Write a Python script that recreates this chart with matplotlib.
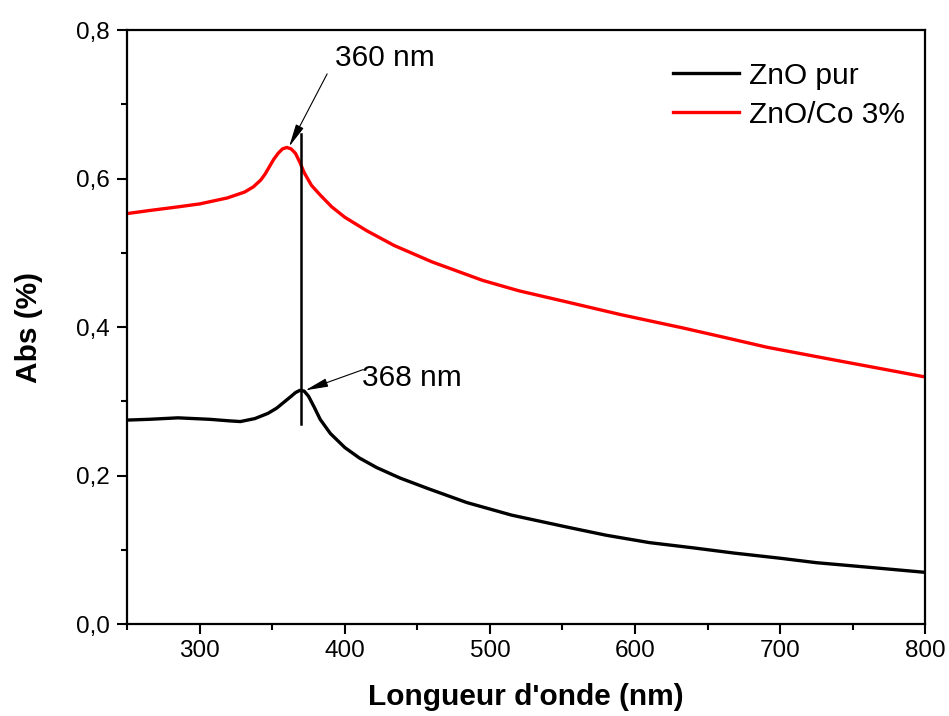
import matplotlib.pyplot as plt
from matplotlib.ticker import MultipleLocator, FuncFormatter

plt.rcParams['font.family'] = ['Liberation Sans', 'DejaVu Sans']

# UV-Vis absorbance spectra
wl_pur = [250, 265, 285, 307, 320, 328, 338, 347, 353, 358, 363, 366, 369, 372,
          375, 379, 383, 390, 400, 410, 422, 438, 457, 484, 515, 553, 580, 610,
          640, 668, 700, 725, 760, 800]
abs_pur = [0.275, 0.276, 0.278, 0.276, 0.274, 0.273, 0.277, 0.284, 0.291, 0.299,
           0.307, 0.312, 0.315, 0.314, 0.307, 0.292, 0.276, 0.257, 0.238, 0.224,
           0.211, 0.197, 0.183, 0.164, 0.147, 0.131, 0.120, 0.110, 0.103, 0.096,
           0.089, 0.083, 0.077, 0.070]

wl_co = [250, 265, 285, 300, 319, 331, 337, 342, 345, 348, 351, 354, 357, 360,
         363, 366, 369, 372, 377, 383, 391, 400, 415, 434, 460, 495, 520, 553,
         590, 633, 660, 691, 737, 770, 800]
abs_co = [0.553, 0.557, 0.562, 0.566, 0.574, 0.582, 0.589, 0.598, 0.606, 0.616,
          0.626, 0.634, 0.640, 0.642, 0.640, 0.634, 0.622, 0.608, 0.591, 0.578,
          0.562, 0.548, 0.530, 0.510, 0.488, 0.463, 0.449, 0.434, 0.417, 0.399,
          0.387, 0.373, 0.356, 0.344, 0.333]

# peak labels: (text, peak position, arrow tail, text anchor)
peaks = [
    ('360 nm', (361.6, 0.643), (387.8, 0.741), (393.0, 0.762)),
    ('368 nm', (372.7, 0.315), (412.7, 0.343), (412.0, 0.331)),
]
marker_x = 370
marker_y = (0.27, 0.66)

fig = plt.figure(figsize=(9.49, 7.16), dpi=100)
ax = fig.add_axes([0.134, 0.128, 0.841, 0.830])

ax.plot(wl_pur, abs_pur, color='black', lw=2.4, label='ZnO pur',
        solid_joinstyle='round')
ax.plot(wl_co, abs_co, color='#ff0000', lw=2.4, label='ZnO/Co 3%',
        solid_joinstyle='round')
ax.plot([marker_x, marker_x], marker_y, color='black', lw=1.8)

for txt, tip, tail, pos in peaks:
    ax.annotate('', xy=tip, xytext=tail,
                arrowprops=dict(arrowstyle='-|>,head_length=0.7,head_width=0.13',
                                color='black', lw=0.8, shrinkA=0, shrinkB=0,
                                mutation_scale=20))
    ax.text(pos[0], pos[1], txt, fontsize=21.5, ha='left', va='center')

ax.set_xlim(250, 800)
ax.set_ylim(0, 0.8)
ax.xaxis.set_major_locator(MultipleLocator(100))
ax.xaxis.set_minor_locator(MultipleLocator(50))
ax.yaxis.set_major_locator(MultipleLocator(0.2))
ax.yaxis.set_minor_locator(MultipleLocator(0.1))
ax.yaxis.set_major_formatter(FuncFormatter(lambda v, p: f'{v:.1f}'.replace('.', ',')))

ax.tick_params(which='major', direction='out', length=7.5, width=1.5, labelsize=17.5)
ax.tick_params(axis='x', which='major', pad=4)
ax.tick_params(axis='y', which='major', pad=5)
ax.tick_params(which='minor', direction='out', length=4, width=1.5)
for s in ax.spines.values():
    s.set_linewidth(1.6)

ax.set_xlabel("Longueur d'onde (nm)", fontsize=21.5, fontweight='bold')
ax.set_ylabel('Abs (%)', fontsize=21.5, fontweight='bold')
ax.xaxis.set_label_coords(0.5, -0.098)
ax.yaxis.set_label_coords(-0.106, 0.5)

ax.legend(loc='upper left', frameon=False, fontsize=21.5, handlelength=2.2,
          handletextpad=0.35, labelspacing=0.38, borderpad=0, borderaxespad=0,
          bbox_to_anchor=(0.684, 0.947))

fig.savefig('out.png', dpi=100)
